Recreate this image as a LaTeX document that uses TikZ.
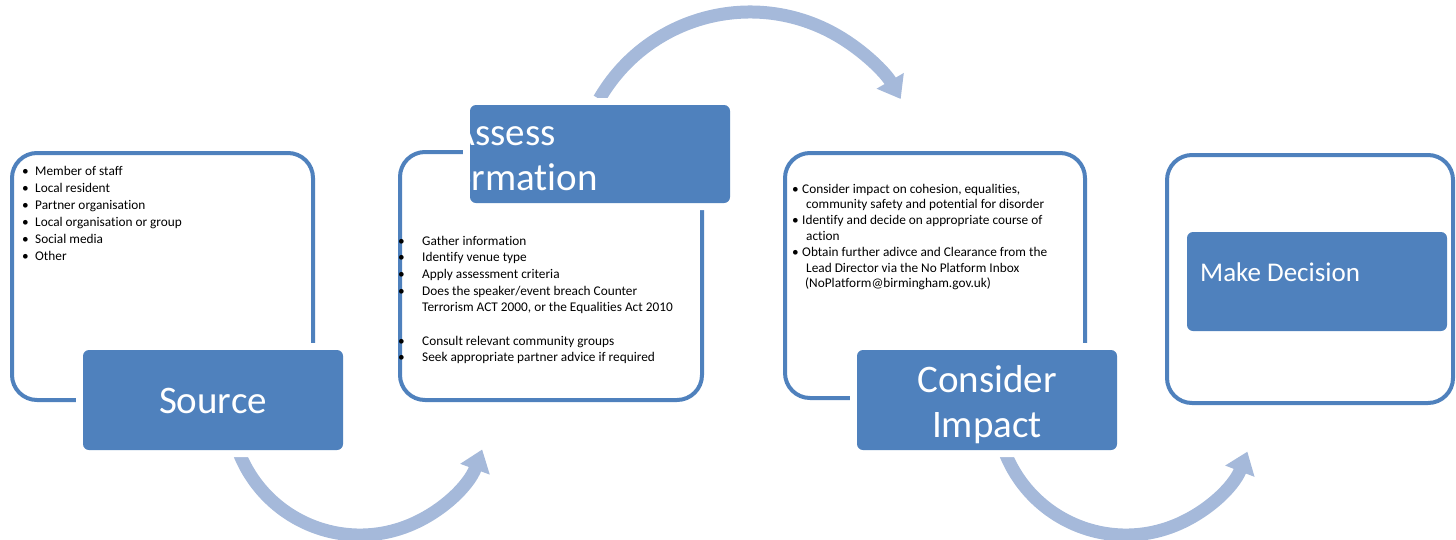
\documentclass[tikz,border=0pt]{standalone}
\usepackage{fontspec}
\setmainfont[Ligatures=NoCommon]{Carlito}
\usetikzlibrary{arrows.meta}
\definecolor{accent}{HTML}{4F81BD}
\definecolor{arrowblue}{HTML}{A5B9DA}
\newcommand{\bul}[1]{\makebox[#1][l]{\textbullet}}
\begin{document}
\begin{tikzpicture}[x=1pt,y=1pt,
  outlinebox/.style={draw=accent, line width=4pt, rounded corners=25pt},
  fillbox/.style={fill=accent, draw=none, rounded corners=6pt, inner sep=0pt,
     preaction={draw=white, line width=14pt}},
  plainfill/.style={fill=accent, draw=none, rounded corners=6pt, inner sep=0pt},
  bigtext/.style={text=white, inner sep=0pt, font=\fontsize{39}{45}\selectfont},
  midtext/.style={text=white, inner sep=0pt, font=\fontsize{27}{32}\selectfont},
  listtext/.style={inner sep=0pt, anchor=base west, text=black},
  cyclearrow/.style={draw=arrowblue, line width=13pt, -{Triangle[width=30pt,length=21pt]}}
]
\useasboundingbox (0,0) rectangle (1456,-539);

% outline boxes
\draw[outlinebox] (12,-153) rectangle (313,-400);
\draw[outlinebox] (400,-152) rectangle (702,-400);
\draw[outlinebox] (785,-153) rectangle (1085,-398);
\draw[outlinebox] (1167,-155) rectangle (1453,-403);

% cycle arrows
\path (360,-405) ++(200:130pt) coordinate (a1s);
\draw[cyclearrow] (a1s) arc[start angle=200, end angle=340, radius=130pt];
\path (750,-186) ++(150:174pt) coordinate (a2s);
\draw[cyclearrow] (a2s) arc[start angle=150, end angle=30, radius=174pt];
\path (1126,-405) ++(200:130pt) coordinate (a3s);
\draw[cyclearrow] (a3s) arc[start angle=200, end angle=339, radius=130pt];

% filled title boxes
\node[fillbox, minimum width=260pt, minimum height=100pt] (source) at (213,-400) {};
\node[bigtext, anchor=base] (sourcelbl) at (213,-413) {Source};

\node[fillbox, minimum width=260pt, minimum height=98pt] (assess) at (600,-154) {};
\begin{scope}
  \clip (assess.south west) rectangle (assess.north east);
  \node[bigtext, anchor=base] (assesslbl1) at (504,-145) {Assess};
  \node[bigtext, anchor=base] (assesslbl2) at (504,-190) {Information};
\end{scope}

\node[fillbox, minimum width=260pt, minimum height=100pt] (consider) at (987,-400) {};
\node[bigtext, anchor=base] (considerlbl1) at (987,-392) {Consider};
\node[bigtext, anchor=base] (considerlbl2) at (987,-437) {Impact};

\node[plainfill, minimum width=260pt, minimum height=99pt] (decide) at (1317,-281.5) {};
\node[midtext, anchor=base west] (decidelbl) at (1200,-281) {Make Decision};

% bullet lists
\node[listtext, font=\fontsize{13.3}{17}\selectfont] (srclist) at (22,-175) {\parbox[t]{270pt}{%
\bul{13pt}Member of staff\\
\bul{13pt}Local resident\\
\bul{13pt}Partner organisation\\
\bul{13pt}Local organisation or group\\
\bul{13pt}Social media\\
\bul{13pt}Other}};

\node[listtext, font=\fontsize{13.3}{16.7}\selectfont] (assesslist) at (398,-245) {\parbox[t]{300pt}{%
\bul{24pt}Gather information\\
\bul{24pt}Identify venue type\\
\bul{24pt}Apply assessment criteria\\
\bul{24pt}Does the speaker/event breach Counter\\
\hspace*{24pt}Terrorism ACT 2000, or the Equalities Act 2010\\[16.7pt]
\bul{24pt}Consult relevant community groups\\
\bul{24pt}Seek appropriate partner advice if required}};

\node[listtext, font=\fontsize{13.3}{15.8}\selectfont] (impactlist) at (792,-193) {\parbox[t]{290pt}{%
\bul{10pt}Consider impact on cohesion, equalities,\\
\hspace*{14pt}community safety and potential for disorder\\
\bul{10pt}Identify and decide on appropriate course of\\
\hspace*{14pt}action\\
\bul{10pt}Obtain further adivce and Clearance from the\\
\hspace*{14pt}Lead Director via the No Platform Inbox\\
\hspace*{13pt}(NoPlatform@birmingham.gov.uk)}};
\end{tikzpicture}
\end{document}
